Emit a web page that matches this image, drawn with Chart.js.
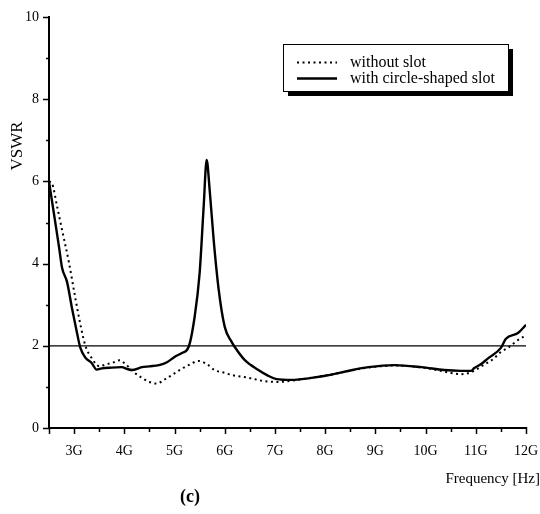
<!DOCTYPE html>
<html>
<head>
<meta charset="utf-8">
<script src="https://cdn.jsdelivr.net/npm/chart.js@4.4.1/dist/chart.umd.min.js"></script>
<style>
  html, body { margin: 0; padding: 0; background: #fff; }
  #wrap { width: 540px; height: 514px; position: relative; }
</style>
</head>
<body>
<div id="wrap"><canvas id="c" width="540" height="514"></canvas></div>
<script>
// ---- data ----
const seriesNames = ['without slot', 'with circle-shaped slot'];
const xTicks = [2.5,3,3.5,4,4.5,5,5.5,6,6.5,7,7.5,8,8.5,9,9.5,10,10.5,11,11.5,12];
const yTicks = [0,1,2,3,4,5,6,7,8,9,10];
const threshold = 2;

const freqWithout = [2.5,2.56,2.66,2.76,2.9,3.02,3.12,3.22,3.35,3.51,3.63,3.75,3.91,4.0,4.09,4.2,4.35,4.5,4.65,4.8,4.95,5.14,5.28,5.48,5.65,5.8,6.0,6.14,6.48,6.79,7.07,7.5,8.2,8.8,9.4,10.0,10.51,10.71,10.91,11.15,11.35,11.5,11.64,11.84,12.0];
const vswrWithout = [6.0,5.95,5.4,4.82,4.01,3.19,2.55,2.02,1.70,1.50,1.55,1.58,1.65,1.58,1.48,1.35,1.22,1.12,1.08,1.18,1.29,1.44,1.53,1.63,1.55,1.41,1.34,1.29,1.22,1.14,1.12,1.18,1.32,1.46,1.52,1.46,1.34,1.31,1.36,1.53,1.68,1.85,1.95,2.14,2.25];

const freqWith = [2.5,2.6,2.7,2.76,2.86,2.96,3.06,3.12,3.22,3.35,3.45,3.55,3.75,3.95,4.05,4.15,4.35,4.5,4.69,4.85,5.0,5.14,5.28,5.4,5.5,5.58,5.64,5.7,5.78,5.88,6.0,6.14,6.2,6.4,6.67,6.85,7.03,7.33,7.53,7.73,8.13,8.5,8.86,9.38,9.92,10.37,10.7,10.91,10.97,11.1,11.25,11.5,11.6,11.84,12.0];
const vswrWith = [6.0,5.2,4.4,3.9,3.55,2.9,2.3,1.97,1.72,1.58,1.42,1.45,1.47,1.48,1.44,1.41,1.48,1.50,1.53,1.60,1.73,1.82,1.97,2.7,3.77,5.38,6.52,5.79,4.57,3.36,2.46,2.09,1.97,1.65,1.41,1.28,1.19,1.17,1.19,1.22,1.30,1.40,1.48,1.53,1.48,1.41,1.39,1.39,1.46,1.55,1.70,1.95,2.17,2.31,2.51];

const toPts = (xs, ys) => xs.map((x, i) => ({ x: x, y: ys[i] }));
const SERIF = '"Liberation Serif", "DejaVu Serif", serif';

const decor = {
  id: 'decor',
  afterDraw(chart) {
    const ctx = chart.ctx;
    const xs = chart.scales.x, ys = chart.scales.y;
    const ca = chart.chartArea;
    ctx.save();
    ctx.strokeStyle = '#000';
    ctx.fillStyle = '#000';
    // x tick marks
    ctx.lineWidth = 1.5;
    xTicks.forEach(v => {
      const px = Math.round(xs.getPixelForValue(v)) + 0.5;
      const major = Number.isInteger(v) || v === xTicks[0];
      ctx.beginPath();
      ctx.moveTo(px, ca.bottom - (major ? 1 : 0));
      ctx.lineTo(px, ca.bottom + (major ? 6 : 4));
      ctx.stroke();
    });
    // y tick marks
    yTicks.forEach(v => {
      const py = Math.round(ys.getPixelForValue(v)) + 0.5;
      const major = v % 2 === 0;
      ctx.beginPath();
      ctx.moveTo(ca.left - (major ? 6 : 3), py);
      ctx.lineTo(ca.left + (major ? 1 : 0), py);
      ctx.stroke();
    });
    // axis titles
    ctx.font = '17px ' + SERIF;
    ctx.textAlign = 'center';
    ctx.textBaseline = 'middle';
    ctx.save();
    ctx.translate(18, 146);
    ctx.rotate(-Math.PI / 2);
    ctx.fillText('VSWR', 0, 0);
    ctx.restore();
    ctx.font = '15px ' + SERIF;
    ctx.textAlign = 'right';
    ctx.fillText('Frequency [Hz]', 540, 479);
    ctx.font = 'bold 18px ' + SERIF;
    ctx.textAlign = 'center';
    ctx.fillText('(c)', 190, 497);
    // legend
    const bx = 283, by = 44, bw = 225, bh = 47;
    ctx.fillRect(bx + 5, by + 5, bw, bh);
    ctx.fillStyle = '#fff';
    ctx.fillRect(bx, by, bw, bh);
    ctx.lineWidth = 1;
    ctx.strokeRect(bx + 0.5, by + 0.5, bw, bh);
    ctx.fillStyle = '#000';
    ctx.font = '16px ' + SERIF;
    ctx.textAlign = 'left';
    chart.data.datasets.forEach((ds, i) => {
      if (!ds.label) return;
      const ly = by + 18 + i * 16;
      ctx.save();
      ctx.lineWidth = ds.borderWidth;
      ctx.setLineDash(ds.borderDash || []);
      ctx.beginPath();
      ctx.moveTo(bx + 14, ly + 0.5);
      ctx.lineTo(bx + 54, ly + 0.5);
      ctx.stroke();
      ctx.restore();
      ctx.fillText(ds.label, bx + 67, ly + 1);
    });
    ctx.restore();
  }
};

new Chart(document.getElementById('c'), {
  type: 'scatter',
  data: {
    datasets: [
      { label: seriesNames[0], data: toPts(freqWithout, vswrWithout), showLine: true,
        borderColor: '#000', borderWidth: 2, borderDash: [2, 3.5], pointRadius: 0, cubicInterpolationMode: 'monotone' },
      { label: seriesNames[1], data: toPts(freqWith, vswrWith), showLine: true,
        borderColor: '#000', borderWidth: 2.4, pointRadius: 0, cubicInterpolationMode: 'monotone', borderJoinStyle: 'round' },
      { label: '', data: [{ x: xTicks[0], y: threshold }, { x: xTicks[xTicks.length - 1], y: threshold }],
        showLine: true, borderColor: '#000', borderWidth: 1.2, pointRadius: 0 }
    ]
  },
  options: {
    responsive: false,
    animation: false,
    layout: { padding: { left: 0, right: 14, top: 17, bottom: 0 } },
    plugins: { legend: { display: false }, tooltip: { enabled: false } },
    scales: {
      x: {
        type: 'linear', min: 2.5, max: 12,
        afterBuildTicks: s => { s.ticks = xTicks.map(v => ({ value: v })); },
        afterFit: s => { s.height = 86; s.paddingLeft = 0; s.paddingRight = 0; },
        grid: { display: false, drawTicks: false },
        border: { display: true, color: '#000', width: 2 },
        ticks: {
          color: '#000', font: { family: SERIF, size: 14 }, padding: 15, maxRotation: 0, autoSkip: false,
          callback: v => Number.isInteger(v) ? v + 'G' : ''
        }
      },
      y: {
        type: 'linear', min: 0, max: 10,
        afterBuildTicks: s => { s.ticks = yTicks.map(v => ({ value: v })); },
        afterFit: s => { s.width = 49; s.paddingTop = 0; s.paddingBottom = 0; },
        grid: { display: false, drawTicks: false },
        border: { display: true, color: '#000', width: 2 },
        ticks: {
          color: '#000', font: { family: SERIF, size: 14 }, padding: 10, autoSkip: false,
          callback: v => v % 2 === 0 ? String(v) : ''
        }
      }
    }
  },
  plugins: [decor]
});
</script>
</body>
</html>
